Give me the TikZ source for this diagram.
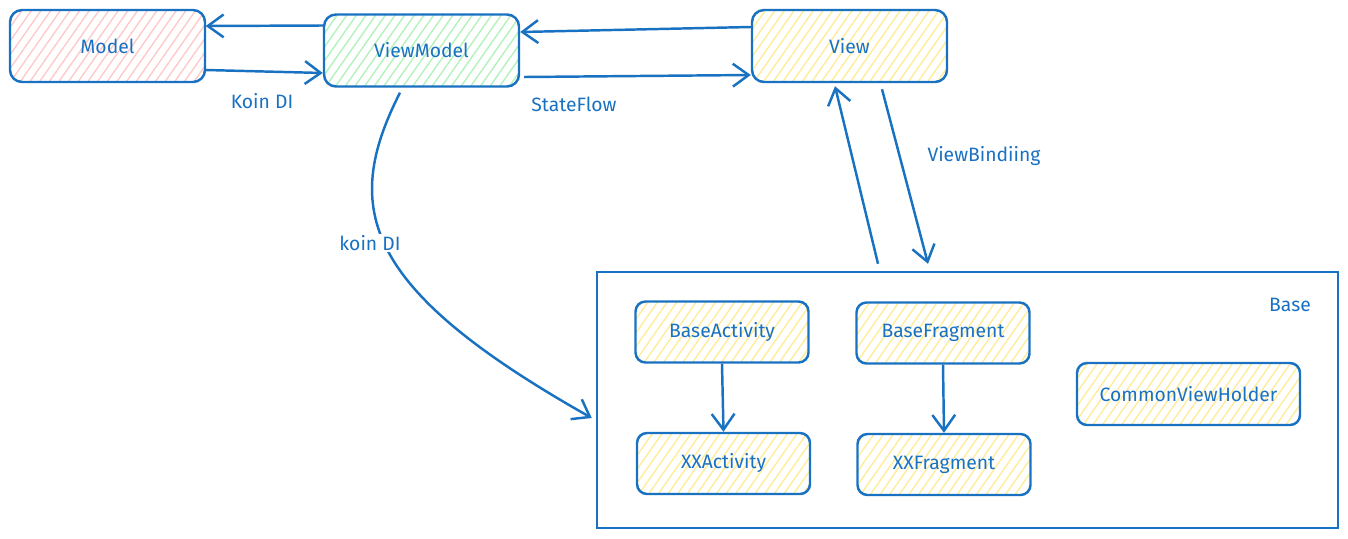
\documentclass[tikz,border=0pt]{standalone}
\usepackage{fontspec}
\setmainfont{Fira Sans}
\usetikzlibrary{arrows.meta,patterns.meta}
\definecolor{inkblue}{HTML}{1971C2}
\definecolor{pinkfill}{HTML}{FFC9C9}
\definecolor{greenfill}{HTML}{B2F2BB}
\definecolor{yellowfill}{HTML}{FFEC99}
\begin{document}
\begin{tikzpicture}[
    box/.style = {draw=inkblue, line width=1.4pt, rounded corners=0.24cm, text=inkblue,
                  minimum width=3.9cm, minimum height=1.44cm, font=\fontsize{11}{13}\selectfont,
                  pattern={Lines[angle=55,distance=4.5pt,line width=0.8pt]}},
    small/.style = {box, minimum width=3.46cm, minimum height=1.22cm, rounded corners=0.2cm, pattern color=yellowfill},
    link/.style = {draw=inkblue, line width=1.4pt, -{Straight Barb[length=9pt,width=13pt,line width=1.4pt]}},
    lbl/.style = {text=inkblue, font=\fontsize{11}{13}\selectfont}]
    \useasboundingbox (0,0) rectangle (26.96,-10.76);
    \node[box, pattern color=pinkfill] (model) at (2.15,-0.92) {Model};
    \node[box, pattern color=greenfill] (vm) at (8.43,-1.01) {ViewModel};
    \node[box, pattern color=yellowfill] (view) at (16.99,-0.92) {View};
    \node[draw=inkblue, line width=1.4pt, minimum width=14.82cm, minimum height=5.12cm] (base) at (19.35,-8.0) {};
    \node[lbl] (baselbl) at (25.8,-6.1) {Base};
    \node[small] (bact) at (14.44,-6.64) {BaseActivity};
    \node[small] (bfrag) at (18.86,-6.66) {BaseFragment};
    \node[small, minimum width=4.46cm, minimum height=1.24cm] (holder) at (23.77,-7.88) {CommonViewHolder};
    \node[small] (xxact) at (14.47,-9.27) {XXActivity};
    \node[small] (xxfrag) at (18.88,-9.29) {XXFragment};
    \draw[link] ([yshift=0.5cm]vm.west) -- ([yshift=0.4cm]model.east);
    \draw[link] ([yshift=-0.48cm]model.east) -- ([yshift=-0.45cm]vm.west);
    \node[lbl] (koin) at (5.24,-2.02) {Koin DI};
    \draw[link] ([yshift=0.38cm]view.west) -- ([yshift=0.37cm]vm.east);
    \draw[link] ([xshift=0.08cm,yshift=-0.53cm]vm.east) -- ([yshift=-0.58cm]view.west);
    \node[lbl] (state) at (11.48,-2.08) {StateFlow};
    \draw[link] ([xshift=-1.79cm,yshift=0.14cm]base.north) -- ([xshift=-0.29cm,yshift=-0.06cm]view.south);
    \draw[link] ([xshift=0.65cm,yshift=-0.12cm]view.south) -- ([xshift=-0.79cm,yshift=0.14cm]base.north);
    \node[lbl] (vb) at (19.68,-3.12) {ViewBindiing};
    \draw[link] ([xshift=-0.43cm,yshift=-0.1cm]vm.south) .. controls (6.8,-4.2) and (7.3,-5.8) .. ([xshift=-0.08cm,yshift=-0.36cm]base.west);
    \node[lbl, fill=white, inner sep=1pt] (koin2) at (7.4,-4.86) {koin DI};
    \draw[link] (bact.south) -- (xxact.north);
    \draw[link] (bfrag.south) -- (xxfrag.north);
\end{tikzpicture}
\end{document}
